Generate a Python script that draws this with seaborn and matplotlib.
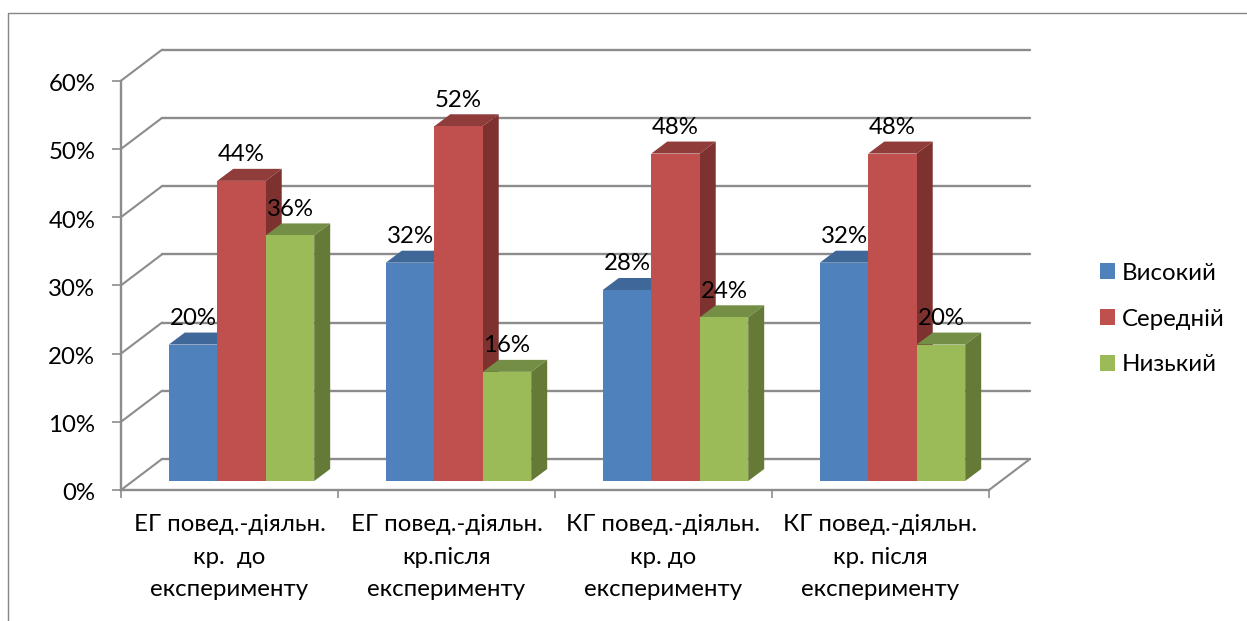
import matplotlib
matplotlib.use("Agg")
import matplotlib.pyplot as plt
from matplotlib.lines import Line2D
from matplotlib.patches import Polygon
from matplotlib.transforms import Affine2D
import pandas as pd
import seaborn as sns

sns.set_theme(style="white")
plt.rcParams["font.family"] = ["Lato", "Noto Sans", "DejaVu Sans"]

categories = [
    "ЕГ повед.-діяльн.\nкр.  до\nексперименту",
    "ЕГ повед.-діяльн.\nкр.після\nексперименту",
    "КГ повед.-діяльн.\nкр. до\nексперименту",
    "КГ повед.-діяльн.\nкр. після\nексперименту",
]
levels = ["Високий", "Середній", "Низький"]
vysokyi = [20, 32, 28, 32]
serednii = [44, 52, 48, 48]
nyzkyi = [36, 16, 24, 20]
yticks = [0, 10, 20, 30, 40, 50, 60]

front = {"Високий": "#4F81BD", "Середній": "#C0504D", "Низький": "#9BBB59"}
top = {"Високий": "#3F6797", "Середній": "#8F3C3A", "Низький": "#748F45"}
side = {"Високий": "#345580", "Середній": "#7E3230", "Низький": "#667A38"}
grey = "#8C8C8C"
fs = 17.3

df = pd.DataFrame({
    "cat": categories * 3,
    "level": [l for l in levels for _ in categories],
    "value": vysokyi + serednii + nyzkyi,
})

W, H = 1247, 621
fig = plt.figure(figsize=(W / 100, H / 100), dpi=100)
ax = fig.add_axes([121 / W, (H - 490) / H, 868 / W, 409.3 / H])

sns.barplot(data=df, x="cat", y="value", hue="level", hue_order=levels, palette=front,
            width=0.67, gap=0, saturation=1, linewidth=0, ax=ax)
ax.set_xlim(-0.5, 3.5)
ax.set_ylim(0, 60)

# pixels to data units, the 3D look is faked with offsets
px_x = 4 / 868
px_y = 60 / 409.3
wall_dx, wall_dy = 41 * px_x, 31 * px_y
bar_dx, bar_dy = 12 * px_x, 9 * px_y
depth_x, depth_y = 16 * px_x, 12 * px_y

# back wall and floor
for v in yticks:
    ax.plot([-0.5 + wall_dx, 3.5 + wall_dx], [v + wall_dy, v + wall_dy], color=grey, lw=1.7,
            clip_on=False, zorder=1, solid_capstyle="round")
    ax.plot([-0.5, -0.5 + wall_dx], [v, v + wall_dy], color=grey, lw=1.5, clip_on=False, zorder=1)
ax.plot([3.5, 3.5 + wall_dx], [0, wall_dy], color=grey, lw=1.5, clip_on=False, zorder=1)

# shift the bars back and add the top and side faces
for i, (container, level) in enumerate(zip(ax.containers, levels)):
    for bar in container:
        bar.set_x(bar.get_x() + bar_dx)
        bar.set_y(bar_dy)
        bar.set_zorder(3 + i + 0.5)
        x0, x1 = bar.get_x(), bar.get_x() + bar.get_width()
        y0, y1 = bar_dy, bar_dy + bar.get_height()
        ax.add_patch(Polygon([(x0, y1), (x1, y1), (x1 + depth_x, y1 + depth_y), (x0 + depth_x, y1 + depth_y)],
                             closed=True, fc=top[level], ec="none", zorder=3 + i, clip_on=False))
        ax.add_patch(Polygon([(x1, y0), (x1 + depth_x, y0 + depth_y), (x1 + depth_x, y1 + depth_y), (x1, y1)],
                             closed=True, fc=side[level], ec="none", zorder=3 + i, clip_on=False))
        ax.text((x0 + x1) / 2, y1 + 26 * px_y, f"{bar.get_height():.0f}%", ha="center", va="center",
                fontsize=fs, color="black", zorder=10, clip_on=False)

ax.set_xlabel("")
ax.set_ylabel("")
ax.set_yticks(yticks)
ax.set_yticklabels([f"{v}%" for v in yticks], fontsize=fs, color="black")
ax.set_xticks(range(4))
ax.set_xticklabels(categories, fontsize=fs, color="black", linespacing=1.68)
ax.set_xticks([-0.5, 0.5, 1.5, 2.5, 3.5], minor=True)
ax.tick_params(axis="x", which="major", length=0, pad=17.5)
ax.tick_params(axis="x", which="minor", length=6, width=1.2, color=grey, bottom=True)
ax.tick_params(axis="y", length=6.5, width=1.2, color=grey, left=True, pad=12)
for label in ax.get_yticklabels():
    label.set_transform(label.get_transform() + Affine2D().translate(0, -2))

sns.despine(ax=ax, top=True, right=True)
for name in ["left", "bottom"]:
    ax.spines[name].set_color(grey)
    ax.spines[name].set_linewidth(1.7)

sns.move_legend(ax, "center left", bbox_to_anchor=(1100 / W, (H - 319) / H),
                bbox_transform=fig.transFigure, title=None, frameon=False, fontsize=fs,
                handlelength=0.625, handleheight=0.625, handletextpad=0.27, labelspacing=1.03,
                borderpad=0, borderaxespad=0)
for text in ax.get_legend().get_texts():
    text.set_color("black")

# outer chart frame, cut off on the right and bottom
fig.add_artist(Line2D([8 / W, 8 / W, 1], [0, (H - 13) / H, (H - 13) / H],
                      transform=fig.transFigure, color="#868686", lw=1))

fig.savefig("out.png", dpi=100, facecolor="white")
